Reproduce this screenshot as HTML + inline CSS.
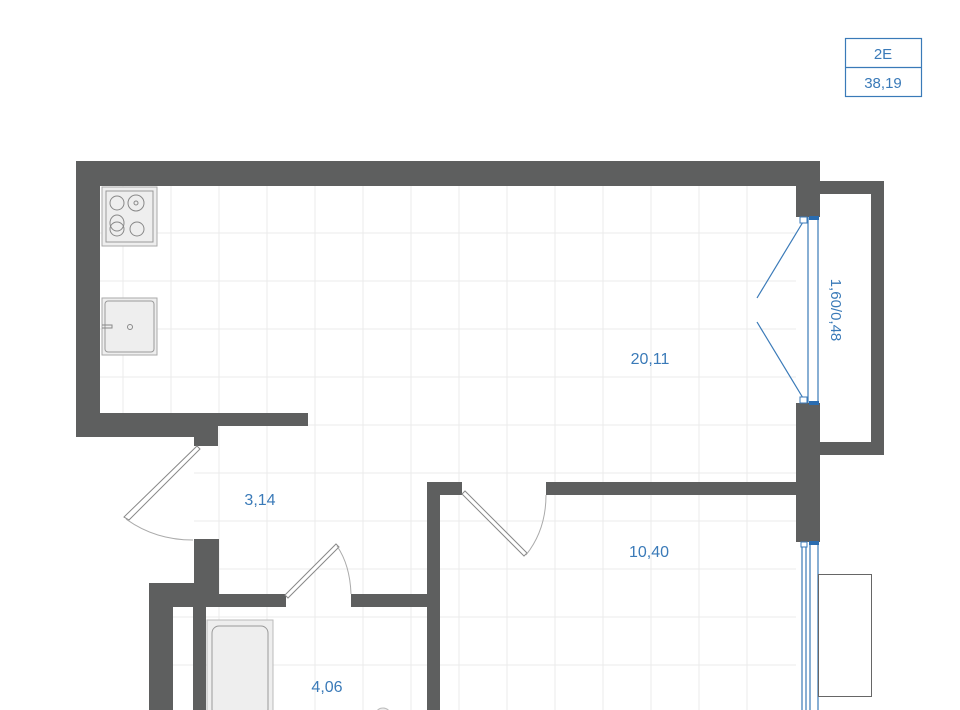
<!DOCTYPE html>
<html><head><meta charset="utf-8"><style>
html,body{margin:0;padding:0;background:#fff;}
svg{display:block;}
text{font-family:"Liberation Sans",sans-serif;}
</style></head><body>
<svg width="960" height="710" viewBox="0 0 960 710" xmlns="http://www.w3.org/2000/svg">
<defs>
<clipPath id="c"><rect x="100" y="186" width="696" height="227"/><rect x="194" y="413" width="602" height="297"/><rect x="173" y="607" width="20" height="103"/></clipPath>
</defs>
<g clip-path="url(#c)" stroke="#ebebeb" stroke-width="1">
<line x1="123" y1="186" x2="123" y2="710"/><line x1="171" y1="186" x2="171" y2="710"/><line x1="219" y1="186" x2="219" y2="710"/><line x1="267" y1="186" x2="267" y2="710"/><line x1="315" y1="186" x2="315" y2="710"/><line x1="363" y1="186" x2="363" y2="710"/><line x1="411" y1="186" x2="411" y2="710"/><line x1="459" y1="186" x2="459" y2="710"/><line x1="507" y1="186" x2="507" y2="710"/><line x1="555" y1="186" x2="555" y2="710"/><line x1="603" y1="186" x2="603" y2="710"/><line x1="651" y1="186" x2="651" y2="710"/><line x1="699" y1="186" x2="699" y2="710"/><line x1="747" y1="186" x2="747" y2="710"/>
<line x1="100" y1="233" x2="796" y2="233"/><line x1="100" y1="281" x2="796" y2="281"/><line x1="100" y1="329" x2="796" y2="329"/><line x1="100" y1="377" x2="796" y2="377"/><line x1="100" y1="425" x2="796" y2="425"/><line x1="100" y1="473" x2="796" y2="473"/><line x1="100" y1="521" x2="796" y2="521"/><line x1="100" y1="569" x2="796" y2="569"/><line x1="100" y1="617" x2="796" y2="617"/><line x1="100" y1="665" x2="796" y2="665"/>
</g>
<!-- label box -->
<rect x="845.5" y="38.5" width="76" height="58" fill="none" stroke="#3a7ab8" stroke-width="1.2"/>
<line x1="845" y1="67.5" x2="922" y2="67.5" stroke="#3a7ab8" stroke-width="1.2"/>
<text x="883" y="59" font-size="15" fill="#3a7ab8" text-anchor="middle">2E</text>
<text x="883" y="88" font-size="15" fill="#3a7ab8" text-anchor="middle">38,19</text>
<!-- walls -->
<g fill="#5e5f5f">
<rect x="76" y="161" width="744" height="25"/>
<rect x="76" y="161" width="24" height="276"/>
<rect x="76" y="413" width="142" height="24"/>
<rect x="194" y="413" width="24" height="33"/>
<rect x="218" y="413" width="90" height="13"/>
<rect x="796" y="161" width="24" height="56"/>
<rect x="796" y="403" width="24" height="139"/>
<rect x="820" y="181" width="64" height="13"/>
<rect x="871" y="181" width="13" height="274"/>
<rect x="820" y="442" width="64" height="13"/>
<rect x="546" y="482" width="250" height="13"/>
<rect x="427" y="482" width="35" height="13"/>
<rect x="427" y="482" width="13" height="228"/>
<rect x="194" y="539" width="25" height="68"/>
<rect x="149" y="583" width="70" height="24"/>
<rect x="149" y="583" width="24" height="127"/>
<rect x="193" y="607" width="13" height="103"/>
<rect x="219" y="594" width="67" height="13"/>
<rect x="351" y="594" width="76" height="13"/>
</g>
<!-- window top -->
<g stroke="#3a7ab8" fill="none" stroke-width="1.2">
<line x1="808" y1="217" x2="808" y2="403"/><line x1="818" y1="217" x2="818" y2="403"/>
<line x1="803" y1="222" x2="757" y2="298"/><line x1="757" y1="322" x2="803" y2="398"/>
<line x1="802" y1="542" x2="802" y2="710"/><line x1="806" y1="542" x2="806" y2="710"/><line x1="810" y1="542" x2="810" y2="710"/><line x1="818" y1="542" x2="818" y2="710"/>
</g>
<rect x="800" y="217" width="7" height="6" fill="#fff" stroke="#3a7ab8"/><rect x="809" y="216" width="10" height="4" fill="#2a6cb0"/>
<rect x="800" y="397" width="7" height="6" fill="#fff" stroke="#3a7ab8"/><rect x="809" y="401" width="10" height="4" fill="#2a6cb0"/>
<rect x="801" y="542" width="6" height="5" fill="#fff" stroke="#3a7ab8"/><rect x="809" y="541" width="10" height="4" fill="#2a6cb0"/>
<text transform="translate(831,310) rotate(90)" font-size="15" fill="#3a7ab8" text-anchor="middle">1,60/0,48</text>
<rect x="818.5" y="574.5" width="53" height="122" fill="#fff" stroke="#666"/>
<!-- stove & sink -->
<rect x="102" y="187" width="55" height="59" fill="#eee" stroke="#aaa"/>
<rect x="106" y="191" width="47" height="51" fill="none" stroke="#999"/>
<g fill="none" stroke="#888"><circle cx="117" cy="203" r="7"/><circle cx="136" cy="203" r="8"/><circle cx="136" cy="203" r="2"/><ellipse cx="117" cy="223" rx="7" ry="8"/><circle cx="117" cy="229" r="7"/><circle cx="137" cy="229" r="7"/></g>
<rect x="102" y="298" width="55" height="57" fill="#eee" stroke="#aaa"/>
<rect x="105" y="301" width="49" height="51" rx="3" fill="none" stroke="#999"/>
<circle cx="130" cy="327" r="2.5" fill="none" stroke="#888"/>
<path d="M102 325 h10 v3 h-10" fill="none" stroke="#888"/>
<!-- doors -->
<g stroke="#888" fill="#fff" stroke-width="1">
<path d="M197 446 L200 449 L129 520 L124 517 Z"/>
<path d="M336 544 L339 547 L288 598 L285 595 Z"/>
<path d="M465 491 L462 494 L524 556 L527 553 Z"/>
</g>
<g stroke="#aaa" fill="none" stroke-width="1">
<path d="M126 519 Q155 540 193 540"/>
<path d="M337 546 Q350 565 351 594"/>
<path d="M526 555 Q546 530 546 495"/>
</g>
<!-- bath -->
<rect x="207" y="620" width="66" height="95" fill="#eee" stroke="#bbb"/>
<rect x="212" y="626" width="56" height="90" rx="7" fill="none" stroke="#999"/>
<circle cx="383" cy="716" r="8" fill="#eee" stroke="#bbb"/>
<!-- labels -->
<g fill="#3a7ab8" font-size="16" text-anchor="middle">
<text x="650" y="364">20,11</text>
<text x="260" y="505">3,14</text>
<text x="649" y="557">10,40</text>
<text x="327" y="692">4,06</text>
</g>
</svg>
</body></html>
